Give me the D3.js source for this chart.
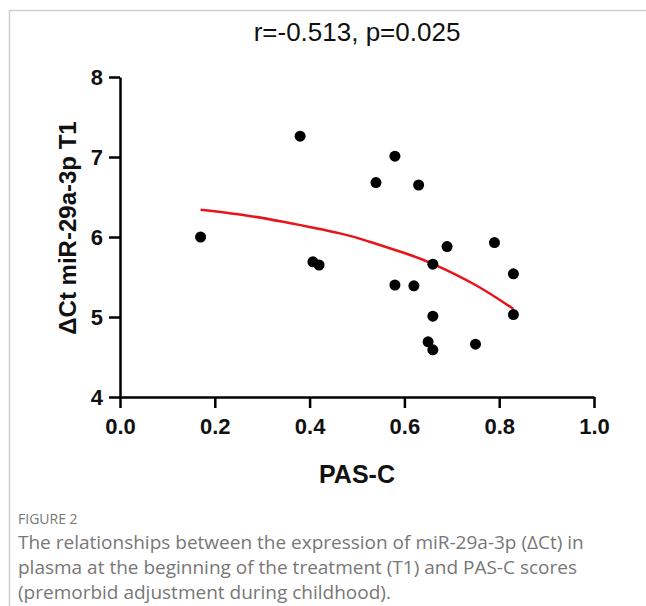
<!DOCTYPE html>
<html>
<head>
<meta charset="utf-8">
<script src="https://cdn.jsdelivr.net/npm/d3@7"></script>
<style>
body { margin: 0; background: #fff; }
svg { display: block; }
</style>
</head>
<body>
<div id="chart"></div>
<script>
// DATA
var pasC  = [0.17, 0.38, 0.58, 0.54, 0.63, 0.407, 0.42, 0.58, 0.62, 0.69, 0.66, 0.79, 0.83, 0.83, 0.66, 0.65, 0.66, 0.75];
var deltaCt = [6.00, 7.26, 7.01, 6.68, 6.65, 5.69, 5.65, 5.40, 5.39, 5.88, 5.66, 5.93, 5.54, 5.03, 5.01, 4.69, 4.59, 4.66];

// fitted curve, sampled from the red line
var fitX = [0.17, 0.26, 0.344, 0.464, 0.527, 0.60, 0.66, 0.75, 0.83];
var fitY = [6.34, 6.275, 6.19, 6.045, 5.94, 5.80, 5.665, 5.40, 5.10];

var xTicks = [0, 0.2, 0.4, 0.6, 0.8, 1.0];
var yTicks = [4, 5, 6, 7, 8];

var titleText = "r=-0.513, p=0.025";
var xLabel = "PAS-C";
var yLabel = "\u0394Ct miR-29a-3p T1";
var figLabel = "FIGURE 2";
var captionLines = [
    "The relationships between the expression of miR-29a-3p (\u0394Ct) in",
    "plasma at the beginning of the treatment (T1) and PAS-C scores",
    "(premorbid adjustment during childhood)."
];

// SIZING
var W = 646, H = 606;
var plot = { left: 120, right: 594, top: 77, bottom: 397 };
var font = "'Liberation Sans', Arial, sans-serif";

var svg = d3.select("#chart").append("svg")
    .attr("width", W)
    .attr("height", H);

// frame
svg.append("rect")
    .attr("x", 9.5).attr("y", 10.5)
    .attr("width", W).attr("height", H)
    .attr("fill", "none")
    .attr("stroke", "#cfcfcf")
    .attr("stroke-width", 1.5);

var x = d3.scaleLinear().domain([0, 1]).range([plot.left, plot.right]);
var y = d3.scaleLinear().domain([4, 8]).range([plot.bottom, plot.top]);

// AXES
var xAxis = svg.append("g")
    .attr("transform", "translate(0," + plot.bottom + ")")
    .call(d3.axisBottom(x).tickValues(xTicks).tickFormat(d3.format(".1f"))
        .tickSize(11).tickSizeOuter(0).tickPadding(10));

var yAxis = svg.append("g")
    .attr("transform", "translate(" + plot.left + ",0)")
    .call(d3.axisLeft(y).tickValues(yTicks).tickFormat(d3.format("d"))
        .tickSize(11).tickSizeOuter(0).tickPadding(6));

[xAxis, yAxis].forEach(function (g) {
    g.select(".domain").attr("stroke", "#000").attr("stroke-width", 2.5);
    g.selectAll(".tick line").attr("stroke", "#000").attr("stroke-width", 2.5);
    g.selectAll(".tick text")
        .attr("fill", "#111")
        .style("font-family", font)
        .style("font-weight", "bold")
        .style("font-size", "22px");
});

// FIT LINE
var line = d3.line()
    .x(function (d) { return x(d[0]); })
    .y(function (d) { return y(d[1]); })
    .curve(d3.curveNatural);

svg.append("path")
    .datum(d3.zip(fitX, fitY))
    .attr("d", line)
    .attr("fill", "none")
    .attr("stroke", "#e8141b")
    .attr("stroke-width", 2.5);

// POINTS
svg.selectAll("circle.pt")
    .data(d3.zip(pasC, deltaCt))
    .enter().append("circle")
    .attr("class", "pt")
    .attr("cx", function (d) { return x(d[0]); })
    .attr("cy", function (d) { return y(d[1]); })
    .attr("r", 5.5)
    .attr("fill", "#000");

// TEXTS
svg.append("text")
    .attr("x", (plot.left + plot.right) / 2)
    .attr("y", 41)
    .attr("text-anchor", "middle")
    .style("font-family", font)
    .style("font-size", "26px")
    .attr("fill", "#111")
    .text(titleText);

svg.append("text")
    .attr("x", (plot.left + plot.right) / 2)
    .attr("y", 483)
    .attr("text-anchor", "middle")
    .style("font-family", font)
    .style("font-weight", "bold")
    .style("font-size", "25px")
    .attr("fill", "#111")
    .text(xLabel);

svg.append("text")
    .attr("transform", "translate(76," + 228 + ") rotate(-90)")
    .attr("text-anchor", "middle")
    .style("font-family", font)
    .style("font-weight", "bold")
    .style("font-size", "24px")
    .attr("fill", "#111")
    .text(yLabel);

// CAPTION
svg.append("text")
    .attr("x", 18)
    .attr("y", 524)
    .style("font-family", "'Open Sans', sans-serif")
    .style("font-size", "14px")
    .attr("fill", "#777")
    .text(figLabel);

svg.selectAll("text.cap")
    .data(captionLines)
    .enter().append("text")
    .attr("class", "cap")
    .attr("x", 18)
    .attr("y", function (d, i) { return 549 + i * 25; })
    .style("font-family", "'Open Sans', sans-serif")
    .style("font-size", "19px")
    .attr("fill", "#777")
    .text(function (d) { return d; });
</script>
</body>
</html>
